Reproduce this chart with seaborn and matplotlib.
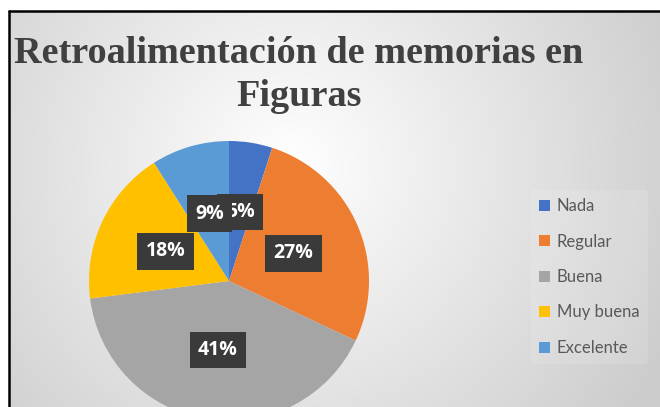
import numpy as np
import matplotlib
matplotlib.use("Agg")
import matplotlib.pyplot as plt
from matplotlib.lines import Line2D
import seaborn as sns

# --- Data ---
categories = ["Nada", "Regular", "Buena", "Muy buena", "Excelente"]
values = [5, 27, 41, 18, 9]
slice_colors = ["#4472C4", "#ED7D31", "#A5A5A5", "#FFC000", "#5B9BD5"]
title_text = "Retroalimentación de memorias en\nFiguras"

W, H, DPI = 660, 407, 100

sns.set_theme(style="white")
plt.rcParams["font.family"] = ["Lato", "DejaVu Sans"]

fig = plt.figure(figsize=(W / DPI, H / DPI), dpi=DPI)
fig.patch.set_facecolor("white")

def px_box(left, top, right, bottom):
    """pixel box (from top-left) -> figure fraction rect"""
    return [left / W, 1 - bottom / H, (right - left) / W, (bottom - top) / H]

# --- Radial gradient background ---
bg = fig.add_axes(px_box(10, 12, W, H), zorder=0)
xx, yy = np.meshgrid(np.arange(10, W), np.arange(12, H))
dist = np.hypot(xx - 290, yy - 165)
shade = np.clip(1.0 - 0.18 * dist / 380, 0.8, 1.0)
bg.imshow(np.dstack([shade] * 3), aspect="auto", interpolation="bilinear")
bg.set_axis_off()

# frame lines (top and left)
fig.add_artist(Line2D([8.5 / W, 1], [1 - 11 / H, 1 - 11 / H], color="black", lw=1.8))
fig.add_artist(Line2D([8.8 / W, 8.8 / W], [0, 1 - 11 / H], color="black", lw=1.8))

# --- Title ---
fig.text(299 / W, 1 - 36 / H, title_text, ha="center", va="top",
         family=["Liberation Serif", "DejaVu Serif"], weight="bold",
         fontsize=27.5, color="#404040", linespacing=1.3, zorder=3)

# --- Pie ---
ax = fig.add_axes(px_box(89, 141, 369, 421), zorder=2)
ax.patch.set_alpha(0)
palette = sns.color_palette(slice_colors)
wedges, _, autotexts = ax.pie(
    values, colors=palette, startangle=90, counterclock=False,
    autopct=lambda p: f"{p:.0f}%", pctdistance=0.5, radius=1.0,
    wedgeprops=dict(linewidth=0),
    textprops=dict(color="white", fontsize=14, weight="bold",
                   family=["Open Sans", "DejaVu Sans"]),
)
for i, t in enumerate(autotexts):
    t.set_bbox(dict(facecolor="#3a3a3a", edgecolor="none", pad=6))
    t.set_zorder(5 + i)
ax.set_xlim(-1, 1)
ax.set_ylim(-1, 1)
ax.set_axis_off()

# --- Legend ---
leg = fig.legend(
    wedges, categories, loc="center left",
    bbox_to_anchor=(531 / W, 1 - 277 / H), frameon=True,
    fontsize=12, labelcolor="#595959", borderaxespad=0, borderpad=0.5,
    handlelength=0.66, handleheight=0.66, handletextpad=0.4,
    labelspacing=1.17,
)
leg.get_frame().set_facecolor("white")
leg.get_frame().set_alpha(0.12)
leg.get_frame().set_edgecolor("none")
leg.set_zorder(4)

fig.savefig("out.png", dpi=DPI)
